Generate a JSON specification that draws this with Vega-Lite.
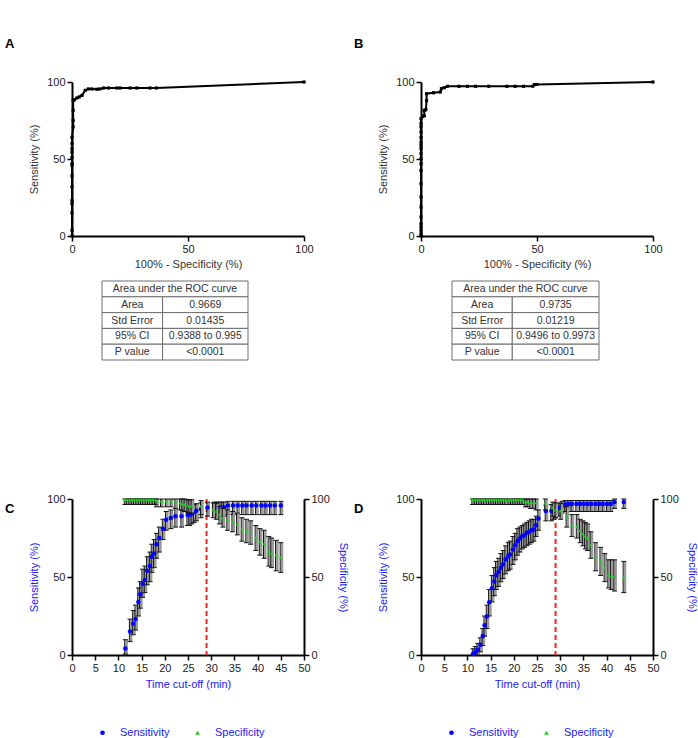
{
"$schema": "https://vega.github.io/schema/vega-lite/v6.json",
"padding": {"left": 5, "top": 38, "right": 0, "bottom": 0},
"background": "white",
"columns": 2,
"spacing": {"row": 45, "column": 117},
"bounds": "flush",
"resolve": {"scale": {"color": "independent", "shape": "independent"}},
"datasets": {
"rocA": [{"fpr":0,"sens":0},{"fpr":0,"sens":3.7},{"fpr":0,"sens":15},{"fpr":0,"sens":21},{"fpr":0,"sens":23},{"fpr":0,"sens":32},{"fpr":0,"sens":39},{"fpr":0,"sens":46},{"fpr":0,"sens":47},{"fpr":0,"sens":51},{"fpr":0,"sens":54.5},{"fpr":0,"sens":56.7},{"fpr":0,"sens":60},{"fpr":0,"sens":64},{"fpr":0.5,"sens":70.8},{"fpr":0.5,"sens":75},{"fpr":0.5,"sens":81.6},{"fpr":0.5,"sens":88},{"fpr":1,"sens":88.5},{"fpr":2.1,"sens":89.6},{"fpr":3.1,"sens":90.3},{"fpr":4.3,"sens":91.3},{"fpr":5.7,"sens":94.6},{"fpr":7.1,"sens":95.5},{"fpr":8.6,"sens":95.5},{"fpr":10.7,"sens":95.3},{"fpr":12,"sens":95.5},{"fpr":13.6,"sens":96.1},{"fpr":15.7,"sens":96.1},{"fpr":19.3,"sens":96.1},{"fpr":20.7,"sens":96.1},{"fpr":25,"sens":96.1},{"fpr":27.9,"sens":96.1},{"fpr":33.6,"sens":96.1},{"fpr":36.4,"sens":96.1},{"fpr":100,"sens":100}],
"rocB": [{"fpr":0,"sens":0},{"fpr":0,"sens":1.5},{"fpr":0,"sens":3.7},{"fpr":0,"sens":5.8},{"fpr":0,"sens":8},{"fpr":0,"sens":12.3},{"fpr":0,"sens":18.8},{"fpr":0,"sens":25.3},{"fpr":0,"sens":34},{"fpr":0,"sens":42.6},{"fpr":0,"sens":47},{"fpr":0,"sens":50.2},{"fpr":0,"sens":53.5},{"fpr":0,"sens":56.7},{"fpr":0,"sens":58.9},{"fpr":0,"sens":61},{"fpr":0,"sens":64},{"fpr":0,"sens":67.5},{"fpr":0,"sens":70.8},{"fpr":0,"sens":73},{"fpr":0,"sens":76.2},{"fpr":0.7,"sens":77.7},{"fpr":1.4,"sens":78},{"fpr":1.4,"sens":81.6},{"fpr":2.1,"sens":82},{"fpr":2.4,"sens":88},{"fpr":2.4,"sens":92.4},{"fpr":5.4,"sens":93},{"fpr":8.3,"sens":93.5},{"fpr":8.8,"sens":95.7},{"fpr":10,"sens":96.3},{"fpr":11.4,"sens":97.2},{"fpr":16.4,"sens":97.2},{"fpr":20,"sens":97.2},{"fpr":23.5,"sens":97.2},{"fpr":29.2,"sens":97.2},{"fpr":37,"sens":97.2},{"fpr":40.6,"sens":97.2},{"fpr":44.2,"sens":97.2},{"fpr":48.2,"sens":97.3},{"fpr":48.9,"sens":98.3},{"fpr":49.9,"sens":98.4},{"fpr":100,"sens":100}],
"tblA": [{"row":"h","c0":0,"c1":1,"txt":"Area under the ROC curve"},{"row":"Area","c0":0,"c1":0.415,"txt":"Area"},{"row":"Area","c0":0.415,"c1":1,"txt":"0.9669"},{"row":"Std Error","c0":0,"c1":0.415,"txt":"Std Error"},{"row":"Std Error","c0":0.415,"c1":1,"txt":"0.01435"},{"row":"95% CI","c0":0,"c1":0.415,"txt":"95% CI"},{"row":"95% CI","c0":0.415,"c1":1,"txt":"0.9388 to 0.995"},{"row":"P value","c0":0,"c1":0.415,"txt":"P value"},{"row":"P value","c0":0.415,"c1":1,"txt":"<0.0001"}],
"tblB": [{"row":"h","c0":0,"c1":1,"txt":"Area under the ROC curve"},{"row":"Area","c0":0,"c1":0.41,"txt":"Area"},{"row":"Area","c0":0.41,"c1":1,"txt":"0.9735"},{"row":"Std Error","c0":0,"c1":0.41,"txt":"Std Error"},{"row":"Std Error","c0":0.41,"c1":1,"txt":"0.01219"},{"row":"95% CI","c0":0,"c1":0.41,"txt":"95% CI"},{"row":"95% CI","c0":0.41,"c1":1,"txt":"0.9496 to 0.9973"},{"row":"P value","c0":0,"c1":0.41,"txt":"P value"},{"row":"P value","c0":0.41,"c1":1,"txt":"<0.0001"}],
"cut": [{"t": 29}],
"timeC": [
{"s":"Sensitivity","t":11.5,"v":4.1,"lo":0.6,"hi":9.8},{"s":"Sensitivity","t":12.5,"v":15,"lo":8.6,"hi":23},{"s":"Sensitivity","t":13.2,"v":20,"lo":13,"hi":28.5},{"s":"Sensitivity","t":13.7,"v":23,"lo":16,"hi":32},{"s":"Sensitivity","t":14.3,"v":34,"lo":25,"hi":43},{"s":"Sensitivity","t":14.7,"v":39,"lo":30,"hi":47},{"s":"Sensitivity","t":15.2,"v":45.6,"lo":37,"hi":55},{"s":"Sensitivity","t":15.7,"v":48,"lo":40,"hi":57},{"s":"Sensitivity","t":16.2,"v":54,"lo":45,"hi":63},{"s":"Sensitivity","t":16.8,"v":57,"lo":47,"hi":66},{"s":"Sensitivity","t":17.2,"v":63,"lo":53,"hi":71},{"s":"Sensitivity","t":17.7,"v":65,"lo":56,"hi":74},{"s":"Sensitivity","t":18.2,"v":71,"lo":62,"hi":78},{"s":"Sensitivity","t":18.8,"v":75,"lo":66,"hi":82},{"s":"Sensitivity","t":19.6,"v":81,"lo":74,"hi":87},{"s":"Sensitivity","t":20.3,"v":86.7,"lo":80,"hi":92},{"s":"Sensitivity","t":21.3,"v":87.8,"lo":81,"hi":93},{"s":"Sensitivity","t":22.3,"v":88.9,"lo":82,"hi":94},{"s":"Sensitivity","t":23.6,"v":88.9,"lo":82,"hi":94},{"s":"Sensitivity","t":24.9,"v":89.7,"lo":83,"hi":95},{"s":"Sensitivity","t":25.3,"v":89.9,"lo":83,"hi":95},{"s":"Sensitivity","t":25.8,"v":90.6,"lo":84,"hi":96},{"s":"Sensitivity","t":26.3,"v":91.6,"lo":85,"hi":96.5},{"s":"Sensitivity","t":26.8,"v":92.5,"lo":86,"hi":97},{"s":"Sensitivity","t":27.8,"v":93.6,"lo":88,"hi":97.5},{"s":"Sensitivity","t":29.2,"v":94.6,"lo":89,"hi":98},{"s":"Sensitivity","t":30.7,"v":94.6,"lo":89,"hi":98},{"s":"Sensitivity","t":31.2,"v":94.6,"lo":89,"hi":98},{"s":"Sensitivity","t":31.8,"v":94.6,"lo":89,"hi":98},{"s":"Sensitivity","t":32.3,"v":94.6,"lo":89,"hi":98},{"s":"Sensitivity","t":32.8,"v":94.6,"lo":89,"hi":98},{"s":"Sensitivity","t":33.6,"v":95.9,"lo":90,"hi":98.5},{"s":"Sensitivity","t":34.7,"v":95.9,"lo":90,"hi":98.5},{"s":"Sensitivity","t":35.7,"v":95.9,"lo":90,"hi":98.5},{"s":"Sensitivity","t":36.7,"v":95.9,"lo":90,"hi":98.5},{"s":"Sensitivity","t":37.6,"v":95.9,"lo":90,"hi":98.5},{"s":"Sensitivity","t":38.7,"v":95.9,"lo":90,"hi":98.5},{"s":"Sensitivity","t":39.7,"v":95.9,"lo":90,"hi":98.5},{"s":"Sensitivity","t":40.8,"v":95.9,"lo":90,"hi":98.5},{"s":"Sensitivity","t":41.7,"v":95.9,"lo":90,"hi":98.5},{"s":"Sensitivity","t":42.7,"v":95.9,"lo":90,"hi":98.5},{"s":"Sensitivity","t":43.7,"v":95.9,"lo":90,"hi":98.5},{"s":"Sensitivity","t":45.0,"v":95.9,"lo":90,"hi":98.5},
{"s":"Specificity","t":11.4,"v":99.6,"lo":96.5,"hi":100},{"s":"Specificity","t":11.9,"v":99.6,"lo":96.5,"hi":100},{"s":"Specificity","t":12.4,"v":99.6,"lo":96.5,"hi":100},{"s":"Specificity","t":12.9,"v":99.6,"lo":96.5,"hi":100},{"s":"Specificity","t":13.4,"v":99.6,"lo":96.5,"hi":100},{"s":"Specificity","t":13.9,"v":99.6,"lo":96.5,"hi":100},{"s":"Specificity","t":14.4,"v":99.6,"lo":96.5,"hi":100},{"s":"Specificity","t":14.9,"v":99.6,"lo":96.5,"hi":100},{"s":"Specificity","t":15.4,"v":99.6,"lo":96.5,"hi":100},{"s":"Specificity","t":15.9,"v":99.6,"lo":96.5,"hi":100},{"s":"Specificity","t":16.4,"v":99.6,"lo":96.5,"hi":100},{"s":"Specificity","t":16.9,"v":99.6,"lo":96.5,"hi":100},{"s":"Specificity","t":17.4,"v":99.6,"lo":96.5,"hi":100},{"s":"Specificity","t":17.9,"v":99.6,"lo":96.5,"hi":100},{"s":"Specificity","t":18.2,"v":98.5,"lo":95,"hi":100},{"s":"Specificity","t":19.2,"v":98.5,"lo":95,"hi":100},{"s":"Specificity","t":20.3,"v":98.5,"lo":95,"hi":100},{"s":"Specificity","t":21.3,"v":98.5,"lo":95,"hi":100},{"s":"Specificity","t":22.3,"v":98.5,"lo":94,"hi":100},{"s":"Specificity","t":23.3,"v":97.4,"lo":93,"hi":100},{"s":"Specificity","t":23.8,"v":97,"lo":92.5,"hi":100},{"s":"Specificity","t":24.3,"v":96.5,"lo":92,"hi":100},{"s":"Specificity","t":24.9,"v":96,"lo":91.5,"hi":99.5},{"s":"Specificity","t":25.3,"v":95.5,"lo":91,"hi":99.5},{"s":"Specificity","t":25.8,"v":95.5,"lo":91,"hi":99.5},{"s":"Specificity","t":27.8,"v":95.3,"lo":90,"hi":99},{"s":"Specificity","t":30.4,"v":93.1,"lo":88,"hi":97.5},{"s":"Specificity","t":31.1,"v":92.1,"lo":87,"hi":97},{"s":"Specificity","t":31.8,"v":89.9,"lo":84,"hi":95},{"s":"Specificity","t":32.5,"v":87.8,"lo":82,"hi":94},{"s":"Specificity","t":33.5,"v":86.7,"lo":80,"hi":93},{"s":"Specificity","t":34.6,"v":85.4,"lo":79,"hi":92},{"s":"Specificity","t":35.6,"v":83.9,"lo":77,"hi":91},{"s":"Specificity","t":36.6,"v":80.7,"lo":73,"hi":88},{"s":"Specificity","t":37.6,"v":79.6,"lo":72,"hi":87},{"s":"Specificity","t":38.5,"v":78.6,"lo":71,"hi":86},{"s":"Specificity","t":39.6,"v":75,"lo":67,"hi":83},{"s":"Specificity","t":40.5,"v":72.8,"lo":64,"hi":81},{"s":"Specificity","t":41.4,"v":71.3,"lo":62,"hi":80},{"s":"Specificity","t":42.4,"v":66.4,"lo":57,"hi":76},{"s":"Specificity","t":43.0,"v":65.3,"lo":56,"hi":75},{"s":"Specificity","t":44.0,"v":64.2,"lo":54,"hi":73.5},{"s":"Specificity","t":45.0,"v":62.5,"lo":53,"hi":72}],
"timeD": [
{"s":"Sensitivity","t":11.2,"v":0.7,"lo":0,"hi":4},{"s":"Sensitivity","t":11.7,"v":1.7,"lo":0,"hi":5.5},{"s":"Sensitivity","t":12.2,"v":3.4,"lo":0,"hi":7.5},{"s":"Sensitivity","t":12.8,"v":6.6,"lo":2,"hi":11},{"s":"Sensitivity","t":13.3,"v":12.2,"lo":6,"hi":17},{"s":"Sensitivity","t":13.7,"v":19.1,"lo":12,"hi":25},{"s":"Sensitivity","t":14.2,"v":24.7,"lo":17,"hi":32},{"s":"Sensitivity","t":14.7,"v":33.8,"lo":25,"hi":42},{"s":"Sensitivity","t":15.3,"v":42.8,"lo":34,"hi":51},{"s":"Sensitivity","t":15.8,"v":47.1,"lo":38,"hi":56},{"s":"Sensitivity","t":16.2,"v":51,"lo":42,"hi":60},{"s":"Sensitivity","t":16.7,"v":53.2,"lo":44,"hi":62},{"s":"Sensitivity","t":17.2,"v":55.8,"lo":47,"hi":65},{"s":"Sensitivity","t":17.7,"v":58.2,"lo":49,"hi":67},{"s":"Sensitivity","t":18.2,"v":61.2,"lo":52,"hi":70},{"s":"Sensitivity","t":18.8,"v":63.3,"lo":54,"hi":72},{"s":"Sensitivity","t":19.2,"v":64.4,"lo":55,"hi":73},{"s":"Sensitivity","t":19.8,"v":67.6,"lo":58,"hi":76},{"s":"Sensitivity","t":20.3,"v":70.3,"lo":61,"hi":78},{"s":"Sensitivity","t":20.8,"v":72.9,"lo":64,"hi":81},{"s":"Sensitivity","t":21.3,"v":74.6,"lo":66,"hi":82},{"s":"Sensitivity","t":21.8,"v":76.1,"lo":68,"hi":83},{"s":"Sensitivity","t":22.3,"v":76.8,"lo":69,"hi":84},{"s":"Sensitivity","t":22.8,"v":78.3,"lo":70,"hi":85},{"s":"Sensitivity","t":23.3,"v":78.9,"lo":71,"hi":86},{"s":"Sensitivity","t":23.8,"v":80,"lo":72,"hi":87},{"s":"Sensitivity","t":24.3,"v":80.4,"lo":73,"hi":87},{"s":"Sensitivity","t":24.8,"v":83.2,"lo":76,"hi":89},{"s":"Sensitivity","t":25.3,"v":87.5,"lo":80,"hi":93},{"s":"Sensitivity","t":26.9,"v":92.3,"lo":86,"hi":96},{"s":"Sensitivity","t":28.1,"v":92.3,"lo":86,"hi":96.5},{"s":"Sensitivity","t":28.6,"v":92.5,"lo":87,"hi":96.5},{"s":"Sensitivity","t":29.0,"v":93.5,"lo":88,"hi":97},{"s":"Sensitivity","t":29.7,"v":94.4,"lo":89,"hi":97.5},{"s":"Sensitivity","t":30.4,"v":95.7,"lo":91,"hi":98.5},{"s":"Sensitivity","t":31.1,"v":96.6,"lo":92,"hi":99},{"s":"Sensitivity","t":31.8,"v":96.8,"lo":92,"hi":99},{"s":"Sensitivity","t":32.5,"v":96.8,"lo":92,"hi":99},{"s":"Sensitivity","t":33.5,"v":96.8,"lo":92,"hi":99},{"s":"Sensitivity","t":34.3,"v":96.8,"lo":92,"hi":99},{"s":"Sensitivity","t":35.1,"v":96.8,"lo":92,"hi":99},{"s":"Sensitivity","t":35.9,"v":96.8,"lo":92,"hi":99},{"s":"Sensitivity","t":36.7,"v":96.8,"lo":92,"hi":99},{"s":"Sensitivity","t":37.6,"v":96.8,"lo":92,"hi":99},{"s":"Sensitivity","t":38.4,"v":96.8,"lo":92,"hi":99},{"s":"Sensitivity","t":39.2,"v":96.8,"lo":92,"hi":99},{"s":"Sensitivity","t":40.1,"v":96.8,"lo":92,"hi":99},{"s":"Sensitivity","t":40.9,"v":96.8,"lo":92,"hi":99},{"s":"Sensitivity","t":41.7,"v":98,"lo":94,"hi":100},{"s":"Sensitivity","t":43.7,"v":98,"lo":94,"hi":100},
{"s":"Specificity","t":11.1,"v":99.6,"lo":96.5,"hi":100},{"s":"Specificity","t":11.6,"v":99.6,"lo":96.5,"hi":100},{"s":"Specificity","t":12.1,"v":99.6,"lo":96.5,"hi":100},{"s":"Specificity","t":12.6,"v":99.6,"lo":96.5,"hi":100},{"s":"Specificity","t":13.1,"v":99.6,"lo":96.5,"hi":100},{"s":"Specificity","t":13.6,"v":99.6,"lo":96.5,"hi":100},{"s":"Specificity","t":14.2,"v":99.6,"lo":96.5,"hi":100},{"s":"Specificity","t":14.7,"v":99.6,"lo":96.5,"hi":100},{"s":"Specificity","t":15.2,"v":99.6,"lo":96.5,"hi":100},{"s":"Specificity","t":15.7,"v":99.6,"lo":96.5,"hi":100},{"s":"Specificity","t":16.2,"v":99.6,"lo":96.5,"hi":100},{"s":"Specificity","t":16.7,"v":99.6,"lo":96.5,"hi":100},{"s":"Specificity","t":17.2,"v":99.6,"lo":96.5,"hi":100},{"s":"Specificity","t":17.7,"v":99.6,"lo":96.5,"hi":100},{"s":"Specificity","t":18.2,"v":99.6,"lo":96.5,"hi":100},{"s":"Specificity","t":18.9,"v":99.6,"lo":96.5,"hi":100},{"s":"Specificity","t":19.4,"v":99.6,"lo":96.5,"hi":100},{"s":"Specificity","t":19.9,"v":99.6,"lo":96.5,"hi":100},{"s":"Specificity","t":20.4,"v":99.6,"lo":96.5,"hi":100},{"s":"Specificity","t":20.9,"v":99.6,"lo":96.5,"hi":100},{"s":"Specificity","t":21.4,"v":99.6,"lo":96.5,"hi":100},{"s":"Specificity","t":21.9,"v":99.6,"lo":96.5,"hi":100},{"s":"Specificity","t":22.5,"v":98.3,"lo":95,"hi":100},{"s":"Specificity","t":23.0,"v":98.3,"lo":95,"hi":100},{"s":"Specificity","t":23.6,"v":97.6,"lo":94,"hi":100},{"s":"Specificity","t":24.2,"v":97.6,"lo":94,"hi":100},{"s":"Specificity","t":24.8,"v":97.6,"lo":93,"hi":100},{"s":"Specificity","t":26.8,"v":97.4,"lo":93,"hi":100},{"s":"Specificity","t":28.4,"v":94.4,"lo":89,"hi":98},{"s":"Specificity","t":29.0,"v":93,"lo":88,"hi":97.5},{"s":"Specificity","t":30.1,"v":92.3,"lo":87,"hi":97},{"s":"Specificity","t":31.4,"v":88.6,"lo":82,"hi":95},{"s":"Specificity","t":32.5,"v":83.2,"lo":76,"hi":90},{"s":"Specificity","t":33.6,"v":82.6,"lo":75,"hi":90},{"s":"Specificity","t":34.3,"v":79.6,"lo":72,"hi":87},{"s":"Specificity","t":34.9,"v":77.8,"lo":70,"hi":86},{"s":"Specificity","t":35.4,"v":76.3,"lo":68,"hi":85},{"s":"Specificity","t":35.9,"v":75.3,"lo":67,"hi":84},{"s":"Specificity","t":36.6,"v":70.3,"lo":62,"hi":79},{"s":"Specificity","t":37.6,"v":62.8,"lo":54,"hi":72},{"s":"Specificity","t":38.7,"v":60,"lo":51,"hi":69},{"s":"Specificity","t":39.6,"v":55.7,"lo":47,"hi":65},{"s":"Specificity","t":40.4,"v":51.4,"lo":43,"hi":61},{"s":"Specificity","t":41.0,"v":51,"lo":42,"hi":61},{"s":"Specificity","t":41.7,"v":50.5,"lo":41,"hi":61},{"s":"Specificity","t":43.7,"v":49.4,"lo":40,"hi":60}]
},
"concat": [
{
 "width": 232, "height": 154,
 "title": {"text": "A", "offset": 25, "dx": -67},
 "data": {"name": "rocA"},
 "layer": [
  {"mark": {"type": "line", "color": "#000", "strokeWidth": 2},
   "encoding": {"x": {"field": "fpr", "type": "quantitative", "scale": {"domain": [0, 100]}, "axis": {"values": [0, 50, 100], "title": "100% - Specificity (%)", "titlePadding": 4}},
                "y": {"field": "sens", "type": "quantitative", "scale": {"domain": [0, 100]}, "axis": {"values": [0, 50, 100], "title": "Sensitivity (%)", "titlePadding": 7}},
                "order": [{"field": "fpr"}, {"field": "sens"}]}},
  {"mark": {"type": "point", "shape": "square", "filled": true, "color": "#000", "size": 10, "opacity": 1},
   "encoding": {"x": {"field": "fpr", "type": "quantitative"}, "y": {"field": "sens", "type": "quantitative"}}}
 ]
},
{
 "width": 232, "height": 154,
 "title": {"text": "B", "offset": 25, "dx": -67},
 "data": {"name": "rocB"},
 "layer": [
  {"mark": {"type": "line", "color": "#000", "strokeWidth": 2},
   "encoding": {"x": {"field": "fpr", "type": "quantitative", "scale": {"domain": [0, 100]}, "axis": {"values": [0, 50, 100], "title": "100% - Specificity (%)", "titlePadding": 4}},
                "y": {"field": "sens", "type": "quantitative", "scale": {"domain": [0, 100]}, "axis": {"values": [0, 50, 100], "title": "Sensitivity (%)", "titlePadding": 7}},
                "order": [{"field": "fpr"}, {"field": "sens"}]}},
  {"mark": {"type": "point", "shape": "square", "filled": true, "color": "#000", "size": 10, "opacity": 1},
   "encoding": {"x": {"field": "fpr", "type": "quantitative"}, "y": {"field": "sens", "type": "quantitative"}}}
 ]
},
{
 "width": 232, "height": 173,
 "data": {"name": "tblA"},
 "layer": [
  {"mark": {"type": "rect", "fill": "white", "stroke": "#6e6e6e", "strokeWidth": 1},
   "encoding": {"x": {"field": "c0", "type": "quantitative", "scale": {"domain": [0, 1], "range": [30, 176], "nice": false, "zero": false}, "axis": null},
                "x2": {"field": "c1"},
                "y": {"field": "row", "type": "nominal", "sort": null, "scale": {"domain": ["h", "Area", "Std Error", "95% CI", "P value"], "range": [0, 79], "paddingInner": 0, "paddingOuter": 0}, "axis": null}}},
  {"transform": [{"calculate": "(datum.c0 + datum.c1) / 2", "as": "cm"}],
   "mark": {"type": "text", "fontSize": 10.5, "color": "#333", "align": "center", "baseline": "middle"},
   "encoding": {"x": {"field": "cm", "type": "quantitative", "scale": {"domain": [0, 1], "range": [30, 176], "nice": false, "zero": false}, "axis": null},
                "y": {"field": "row", "type": "nominal", "sort": null, "scale": {"domain": ["h", "Area", "Std Error", "95% CI", "P value"], "range": [0, 79], "paddingInner": 0, "paddingOuter": 0}, "axis": null},
                "text": {"field": "txt"}}}
 ]
},
{
 "width": 232, "height": 173,
 "data": {"name": "tblB"},
 "layer": [
  {"mark": {"type": "rect", "fill": "white", "stroke": "#6e6e6e", "strokeWidth": 1},
   "encoding": {"x": {"field": "c0", "type": "quantitative", "scale": {"domain": [0, 1], "range": [31, 178], "nice": false, "zero": false}, "axis": null},
                "x2": {"field": "c1"},
                "y": {"field": "row", "type": "nominal", "sort": null, "scale": {"domain": ["h", "Area", "Std Error", "95% CI", "P value"], "range": [0, 79], "paddingInner": 0, "paddingOuter": 0}, "axis": null}}},
  {"transform": [{"calculate": "(datum.c0 + datum.c1) / 2", "as": "cm"}],
   "mark": {"type": "text", "fontSize": 10.5, "color": "#333", "align": "center", "baseline": "middle"},
   "encoding": {"x": {"field": "cm", "type": "quantitative", "scale": {"domain": [0, 1], "range": [31, 178], "nice": false, "zero": false}, "axis": null},
                "y": {"field": "row", "type": "nominal", "sort": null, "scale": {"domain": ["h", "Area", "Std Error", "95% CI", "P value"], "range": [0, 79], "paddingInner": 0, "paddingOuter": 0}, "axis": null},
                "text": {"field": "txt"}}}
 ]
},
{
 "width": 232, "height": 156,
 "title": {"text": "C", "offset": 25, "dx": -67, "dy": 48},
 "encoding": {"x": {"field": "t", "type": "quantitative", "scale": {"domain": [0, 50]}, "axis": {"values": [0, 5, 10, 15, 20, 25, 30, 35, 40, 45, 50], "labelOverlap": false, "title": "Time cut-off (min)", "titleColor": "#2020ff", "titlePadding": 5}}},
 "layer": [
  {"data": {"name": "cut"}, "mark": {"type": "rule", "color": "#ff2020", "strokeWidth": 2, "strokeDash": [5, 3]}, "encoding": {}},
  {"data": {"name": "timeC"}, "transform": [{"filter": "datum.s === 'Sensitivity'"}],
   "layer": [
    {"mark": {"type": "rule", "color": "#9a9a9a", "strokeWidth": 2.5, "xOffset": 1.2}, "encoding": {"y": {"field": "lo", "type": "quantitative", "scale": {"domain": [0, 100]}}, "y2": {"field": "hi"}}},
    {"mark": {"type": "rule", "color": "#111", "strokeWidth": 1, "xOffset": -0.6}, "encoding": {"y": {"field": "lo", "type": "quantitative"}, "y2": {"field": "hi"}}},
    {"mark": {"type": "tick", "orient": "horizontal", "color": "#111", "size": 5, "thickness": 1, "opacity": 1}, "encoding": {"y": {"field": "lo", "type": "quantitative"}}},
    {"mark": {"type": "tick", "orient": "horizontal", "color": "#111", "size": 5, "thickness": 1, "opacity": 1}, "encoding": {"y": {"field": "hi", "type": "quantitative"}}},
    {"mark": {"type": "point", "filled": true, "size": 20, "opacity": 1},
     "encoding": {"y": {"field": "v", "type": "quantitative", "scale": {"domain": [0, 100]}, "axis": {"orient": "left", "values": [0, 50, 100], "title": "Sensitivity (%)", "titleColor": "#2020ff", "titlePadding": 7}},
                  "color": {"field": "s", "type": "nominal", "scale": {"domain": ["Sensitivity", "Specificity"], "range": ["#0000ff", "#22cc22"]}, "legend": {"orient": "none", "legendX": 25, "legendY": 228, "direction": "horizontal", "title": null}},
                  "shape": {"field": "s", "type": "nominal", "scale": {"domain": ["Sensitivity", "Specificity"], "range": ["circle", "triangle-up"]}, "legend": {"orient": "none", "legendX": 25, "legendY": 228, "direction": "horizontal", "title": null}}}}
   ]},
  {"data": {"name": "timeC"}, "transform": [{"filter": "datum.s === 'Specificity'"}],
   "layer": [
    {"mark": {"type": "rule", "color": "#9a9a9a", "strokeWidth": 2.5, "xOffset": 1.2}, "encoding": {"y": {"field": "lo", "type": "quantitative", "scale": {"domain": [0, 100]}}, "y2": {"field": "hi"}}},
    {"mark": {"type": "rule", "color": "#111", "strokeWidth": 1, "xOffset": -0.6}, "encoding": {"y": {"field": "lo", "type": "quantitative"}, "y2": {"field": "hi"}}},
    {"mark": {"type": "tick", "orient": "horizontal", "color": "#111", "size": 5, "thickness": 1, "opacity": 1}, "encoding": {"y": {"field": "lo", "type": "quantitative"}}},
    {"mark": {"type": "tick", "orient": "horizontal", "color": "#111", "size": 5, "thickness": 1, "opacity": 1}, "encoding": {"y": {"field": "hi", "type": "quantitative"}}},
    {"mark": {"type": "point", "filled": true, "size": 12, "opacity": 1},
     "encoding": {"y": {"field": "v", "type": "quantitative", "scale": {"domain": [0, 100]}, "axis": {"orient": "right", "values": [0, 50, 100], "title": "Specificity (%)", "titleColor": "#2020ff", "titlePadding": 8}},
                  "color": {"field": "s", "type": "nominal", "scale": {"domain": ["Sensitivity", "Specificity"], "range": ["#0000ff", "#22cc22"]}, "legend": {"orient": "none", "legendX": 25, "legendY": 228, "direction": "horizontal", "title": null}},
                  "shape": {"field": "s", "type": "nominal", "scale": {"domain": ["Sensitivity", "Specificity"], "range": ["circle", "triangle-up"]}, "legend": {"orient": "none", "legendX": 25, "legendY": 228, "direction": "horizontal", "title": null}}}}
   ]}
 ],
 "resolve": {"scale": {"y": "independent"}}
},
{
 "width": 232, "height": 156,
 "title": {"text": "D", "offset": 25, "dx": -67, "dy": 48},
 "encoding": {"x": {"field": "t", "type": "quantitative", "scale": {"domain": [0, 50]}, "axis": {"values": [0, 5, 10, 15, 20, 25, 30, 35, 40, 45, 50], "labelOverlap": false, "title": "Time cut-off (min)", "titleColor": "#2020ff", "titlePadding": 5}}},
 "layer": [
  {"data": {"name": "cut"}, "mark": {"type": "rule", "color": "#ff2020", "strokeWidth": 2, "strokeDash": [5, 3]}, "encoding": {}},
  {"data": {"name": "timeD"}, "transform": [{"filter": "datum.s === 'Sensitivity'"}],
   "layer": [
    {"mark": {"type": "rule", "color": "#9a9a9a", "strokeWidth": 2.5, "xOffset": 1.2}, "encoding": {"y": {"field": "lo", "type": "quantitative", "scale": {"domain": [0, 100]}}, "y2": {"field": "hi"}}},
    {"mark": {"type": "rule", "color": "#111", "strokeWidth": 1, "xOffset": -0.6}, "encoding": {"y": {"field": "lo", "type": "quantitative"}, "y2": {"field": "hi"}}},
    {"mark": {"type": "tick", "orient": "horizontal", "color": "#111", "size": 5, "thickness": 1, "opacity": 1}, "encoding": {"y": {"field": "lo", "type": "quantitative"}}},
    {"mark": {"type": "tick", "orient": "horizontal", "color": "#111", "size": 5, "thickness": 1, "opacity": 1}, "encoding": {"y": {"field": "hi", "type": "quantitative"}}},
    {"mark": {"type": "point", "filled": true, "size": 20, "opacity": 1},
     "encoding": {"y": {"field": "v", "type": "quantitative", "scale": {"domain": [0, 100]}, "axis": {"orient": "left", "values": [0, 50, 100], "title": "Sensitivity (%)", "titleColor": "#2020ff", "titlePadding": 7}},
                  "color": {"field": "s", "type": "nominal", "scale": {"domain": ["Sensitivity", "Specificity"], "range": ["#0000ff", "#22cc22"]}, "legend": {"orient": "none", "legendX": 25, "legendY": 228, "direction": "horizontal", "title": null}},
                  "shape": {"field": "s", "type": "nominal", "scale": {"domain": ["Sensitivity", "Specificity"], "range": ["circle", "triangle-up"]}, "legend": {"orient": "none", "legendX": 25, "legendY": 228, "direction": "horizontal", "title": null}}}}
   ]},
  {"data": {"name": "timeD"}, "transform": [{"filter": "datum.s === 'Specificity'"}],
   "layer": [
    {"mark": {"type": "rule", "color": "#9a9a9a", "strokeWidth": 2.5, "xOffset": 1.2}, "encoding": {"y": {"field": "lo", "type": "quantitative", "scale": {"domain": [0, 100]}}, "y2": {"field": "hi"}}},
    {"mark": {"type": "rule", "color": "#111", "strokeWidth": 1, "xOffset": -0.6}, "encoding": {"y": {"field": "lo", "type": "quantitative"}, "y2": {"field": "hi"}}},
    {"mark": {"type": "tick", "orient": "horizontal", "color": "#111", "size": 5, "thickness": 1, "opacity": 1}, "encoding": {"y": {"field": "lo", "type": "quantitative"}}},
    {"mark": {"type": "tick", "orient": "horizontal", "color": "#111", "size": 5, "thickness": 1, "opacity": 1}, "encoding": {"y": {"field": "hi", "type": "quantitative"}}},
    {"mark": {"type": "point", "filled": true, "size": 12, "opacity": 1},
     "encoding": {"y": {"field": "v", "type": "quantitative", "scale": {"domain": [0, 100]}, "axis": {"orient": "right", "values": [0, 50, 100], "title": "Specificity (%)", "titleColor": "#2020ff", "titlePadding": 8}},
                  "color": {"field": "s", "type": "nominal", "scale": {"domain": ["Sensitivity", "Specificity"], "range": ["#0000ff", "#22cc22"]}, "legend": {"orient": "none", "legendX": 25, "legendY": 228, "direction": "horizontal", "title": null}},
                  "shape": {"field": "s", "type": "nominal", "scale": {"domain": ["Sensitivity", "Specificity"], "range": ["circle", "triangle-up"]}, "legend": {"orient": "none", "legendX": 25, "legendY": 228, "direction": "horizontal", "title": null}}}}
   ]}
 ],
 "resolve": {"scale": {"y": "independent"}}
}
],
"config": {
 "font": "Liberation Sans",
 "view": {"stroke": null},
 "title": {"fontSize": 13, "fontWeight": "bold", "anchor": "start", "frame": "group", "color": "#000", "font": "Liberation Sans"},
 "axis": {"labelFlush": false, "grid": false, "domainColor": "#000", "domainWidth": 2, "tickColor": "#000", "tickWidth": 1.5, "tickSize": 5, "labelColor": "#222", "labelFontSize": 11, "titleFontSize": 11, "titleFontWeight": "normal", "titleColor": "#333", "labelPadding": 2, "labelFont": "Liberation Sans", "titleFont": "Liberation Sans"},
 "legend": {"labelColor": "#2020ff", "labelFontSize": 11, "labelFont": "Liberation Sans", "symbolSize": 22, "columnPadding": 22, "labelOffset": 12, "symbolStrokeWidth": 0}
}
}
